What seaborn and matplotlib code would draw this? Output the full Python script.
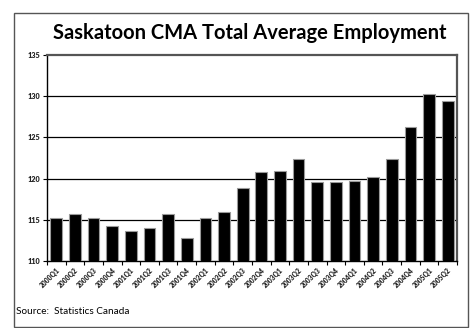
import matplotlib
matplotlib.use("Agg")
import matplotlib.pyplot as plt
import seaborn as sns
import pandas as pd
from matplotlib.patches import Rectangle

quarters = ["2000Q1", "2000Q2", "2000Q3", "2000Q4", "2001Q1", "2001Q2", "2001Q3", "2001Q4",
            "2002Q1", "2002Q2", "2002Q3", "2002Q4", "2003Q1", "2003Q2", "2003Q3", "2003Q4",
            "2004Q1", "2004Q2", "2004Q3", "2004Q4", "2005Q1", "2005Q2"]
employment = [115.2, 115.7, 115.2, 114.2, 113.7, 114.0, 115.7, 112.8,
              115.2, 116.0, 118.8, 120.8, 120.9, 122.4, 119.6, 119.55,
              119.7, 120.15, 122.35, 126.3, 130.3, 129.4]
y_ticks = [110, 115, 120, 125, 130, 135]

df = pd.DataFrame({"quarter": quarters, "employment": employment})

sns.set_theme(style="white")
plt.rcParams["font.family"] = ["Lato", "DejaVu Sans"]

fig = plt.figure(figsize=(4.72, 3.28), dpi=100)
ax = fig.add_axes([47/472, 1-261/328, (457-47)/472, (261-55)/328])

sns.barplot(data=df, x="quarter", y="employment", color="black", width=0.63,
            edgecolor="#9a9a9a", linewidth=0.8, saturation=1, ax=ax, zorder=3)

ax.set_ylim(110, 135)
ax.set_xlim(-0.5, len(quarters) - 0.5)
ax.set_yticks(y_ticks)
ax.set_yticklabels([str(v) for v in y_ticks], fontsize=5.2, fontweight="heavy")
for v in y_ticks[1:-1]:
    ax.axhline(v, color="black", linewidth=0.9, zorder=1)

ax.set_xticks([i - 0.5 for i in range(len(quarters) + 1)])
ax.set_xticklabels([])
ax.set_xticks(range(len(quarters)), minor=True)
ax.set_xticklabels(quarters, minor=True, rotation=45, ha="right", rotation_mode="anchor",
                   fontsize=4.8, fontweight="heavy")
ax.tick_params(axis="x", which="major", length=3, width=0.8, color="black", direction="out", bottom=True)
ax.tick_params(axis="x", which="minor", length=0, pad=4)
ax.tick_params(axis="y", length=3, width=0.8, color="black", direction="out", left=True, pad=2)
ax.set_xlabel("")
ax.set_ylabel("")

for s in ["left", "bottom"]:
    ax.spines[s].set_color("black")
    ax.spines[s].set_linewidth(1.0)
for s in ["top", "right"]:
    ax.spines[s].set_color("#555555")
    ax.spines[s].set_linewidth(1.6)

fig.text(250/472, 1-33/328, "Saskatoon CMA Total Average Employment", ha="center", va="center",
         fontsize=14.5, fontweight="bold", color="black")
fig.text(16/472, 1-311/328, "Source:  Statistics Canada", ha="left", va="center",
         fontsize=7.2, color="black")

fig.patches.append(Rectangle((14/472, 1-327/328), (468-14)/472, (327-13)/328,
                             transform=fig.transFigure, fill=False, edgecolor="#555555",
                             linewidth=1.0))

fig.savefig("out.png", dpi=100)
